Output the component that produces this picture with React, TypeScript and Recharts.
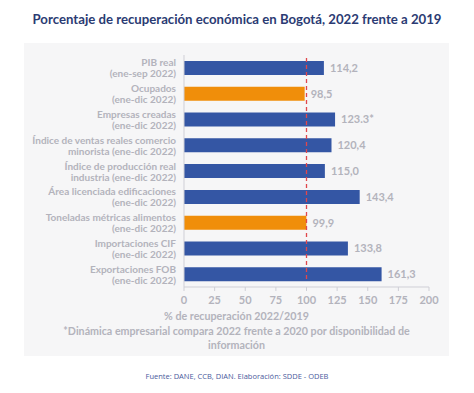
import { Bar, BarChart, Cell, LabelList, ReferenceLine, XAxis, YAxis } from 'recharts';

const categories = [
  ['PIB real', '(ene-sep 2022)'],
  ['Ocupados', '(ene-dic 2022)'],
  ['Empresas creadas', '(ene-dic 2022)'],
  ['Índice de ventas reales comercio', 'minorista (ene-dic 2022)'],
  ['Índice de producción real', 'industria (ene-dic 2022)'],
  ['Área licenciada edificaciones', '(ene-dic 2022)'],
  ['Toneladas métricas alimentos', '(ene-dic 2022)'],
  ['Importaciones CIF', '(ene-dic 2022)'],
  ['Exportaciones FOB', '(ene-dic 2022)'],
];
const values = [114.2, 98.5, 123.3, 120.4, 115.0, 143.4, 99.9, 133.8, 161.3];
const valueLabels = ['114,2', '98,5', '123.3*', '120,4', '115,0', '143,4', '99,9', '133,8', '161,3'];
const highlighted = [false, true, false, false, false, false, true, false, false];
const xTicks = [0, 25, 50, 75, 100, 125, 150, 175, 200];

const data = categories.map((c, i) => ({
  name: c.join('|'),
  value: values[i],
  label: valueLabels[i],
  hl: highlighted[i],
}));

const BLUE = '#3456a4';
const ORANGE = '#f08e0a';
const GRAY = '#b3b3bc';
const FONT = 'Lato, sans-serif';

const CategoryTick = (props: any) => {
  const { x, y, payload } = props;
  const [l1, l2] = String(payload.value).split('|');
  return (
    <text x={x} y={y} textAnchor="end" fill={GRAY} fontSize={10} fontWeight={700} fontFamily={FONT}>
      <tspan x={x} dy={-1.5}>{l1}</tspan>
      <tspan x={x} dy={11}>{l2}</tspan>
    </text>
  );
};

const RefShape = (props: any) => {
  const { x1, y1, x2, y2 } = props;
  return <line x1={x1} y1={y1 - 8} x2={x2} y2={y2} stroke="#e0474c" strokeWidth={1.3} strokeDasharray="4 3" />;
};

export default function App() {
  return (
    <div style={{ position: 'absolute', left: 0, top: 0, width: 474, height: 393, background: '#fff', fontFamily: FONT }}>
      <div style={{ position: 'absolute', left: 0, top: 11, width: 474, textAlign: 'center', color: '#2b3b73', fontWeight: 700, fontSize: 13.2 }}>
        Porcentaje de recuperación económica en Bogotá, 2022 frente a 2019
      </div>
      <div style={{ position: 'absolute', left: 24, top: 43, width: 425, height: 313, background: '#f6f6f7' }}>
        <BarChart
          width={425}
          height={313}
          data={data}
          layout="vertical"
          margin={{ top: 12, right: 20, bottom: 44, left: 8 }}
        >
          <XAxis
            type="number"
            domain={[0, 200]}
            ticks={xTicks}
            axisLine={{ stroke: '#cfcfd6' }}
            tickLine={{ stroke: '#cfcfd6' }}
            tickSize={4}
            tick={{ fill: GRAY, fontSize: 11, fontFamily: FONT, fontWeight: 700, dy: 3 }}
            height={25}
          />
          <YAxis
            type="category"
            dataKey="name"
            width={152}
            axisLine={{ stroke: '#cfcfd6' }}
            tickLine={false}
            tick={<CategoryTick />}
            interval={0}
          />
          <Bar dataKey="value" barSize={14} isAnimationActive={false}>
            {data.map((d, i) => (
              <Cell key={i} fill={d.hl ? ORANGE : BLUE} />
            ))}
            <LabelList dataKey="label" position="right" offset={6} fill={GRAY} fontSize={11} fontFamily={FONT} fontWeight={700} />
          </Bar>
          <ReferenceLine x={100} shape={<RefShape />} ifOverflow="visible" />
        </BarChart>
        <div style={{ position: 'absolute', left: 0, top: 266, width: 425, textAlign: 'center', color: GRAY, fontWeight: 700, fontSize: 10.7, lineHeight: '14.5px' }}>
          % de recuperación 2022/2019
          <br />
          *Dinámica empresarial compara 2022 frente a 2020 por disponibilidad de
          <br />
          información
        </div>
      </div>
      <div style={{ position: 'absolute', left: 0, top: 371, width: 474, textAlign: 'center', color: '#4b5a9c', fontSize: 7.5, fontFamily: '"Open Sans", sans-serif' }}>
        Fuente: DANE, CCB, DIAN. Elaboración: SDDE - ODEB
      </div>
    </div>
  );
}
